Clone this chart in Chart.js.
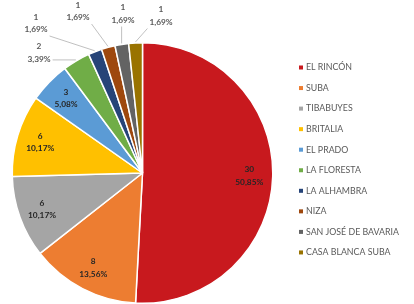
<!DOCTYPE html>
<html><head><meta charset="utf-8">
<script src="https://cdn.jsdelivr.net/npm/chart.js@4/dist/chart.umd.min.js"></script>
<style>html,body{margin:0;padding:0;background:#fff;overflow:hidden}#wrap{position:relative;width:414px;height:304px}</style>
</head><body><div id="wrap"><canvas id="c"></canvas></div>
<script>
const categories = ["EL RINCÓN","SUBA","TIBABUYES","BRITALIA","EL PRADO","LA FLORESTA","LA ALHAMBRA","NIZA","SAN JOSÉ DE BAVARIA","CASA BLANCA SUBA"];
const values = [30, 8, 6, 6, 3, 2, 1, 1, 1, 1];
const colors = ["#C8191E","#ED7D31","#A5A5A5","#FFC000","#5B9BD5","#70AD47","#264478","#9E480E","#636363","#997300"];

// layout/style: centers of outside data labels (for small slices)
const outsideLabelCenters = {5:[39,53],6:[36,23.5],7:[78,11.5],8:[123,14],9:[161,16]};
const LABEL_FONT = "bold 8.3px Lato";
const LINE_GAP = 12.5;
const legendLayout = {markerX:299, textX:306, y0:67.5, step:20.55, font:"8.8px Lato", color:"#595959"};

function pctText(v,total){ return (v/total*100).toFixed(2).replace('.',',') + '%'; }

const labelPlugin = {
  id:'labels',
  afterDatasetsDraw(chart){
    const ctx = chart.ctx;
    const meta = chart.getDatasetMeta(0);
    const data = chart.data.datasets[0].data;
    const total = data.reduce((a,b)=>a+b,0);
    ctx.save();
    ctx.font = LABEL_FONT;
    ctx.textAlign = 'center';
    ctx.textBaseline = 'middle';
    meta.data.forEach((arc,i)=>{
      const mid = (arc.startAngle+arc.endAngle)/2;
      const l1 = String(data[i]), l2 = pctText(data[i],total);
      if (outsideLabelCenters[i]) {
        const [cx,cy] = outsideLabelCenters[i];
        ctx.fillStyle = '#595959';
        ctx.fillText(l1,cx,cy-LINE_GAP/2);
        ctx.fillText(l2,cx,cy+LINE_GAP/2);
        const hw = Math.max(ctx.measureText(l1).width, ctx.measureText(l2).width)/2 + 2;
        const hh = LINE_GAP;
        const ex = arc.x + Math.cos(mid)*(arc.outerRadius+1);
        const ey = arc.y + Math.sin(mid)*(arc.outerRadius+1);
        const nx = Math.min(Math.max(ex,cx-hw),cx+hw);
        const ny = Math.min(Math.max(ey,cy-hh),cy+hh);
        ctx.strokeStyle = '#B0B0B0';
        ctx.lineWidth = 0.8;
        ctx.beginPath(); ctx.moveTo(nx,ny); ctx.lineTo(ex,ey); ctx.stroke();
      } else {
        const r = arc.outerRadius*0.82;
        const x = arc.x + Math.cos(mid)*r, y = arc.y + Math.sin(mid)*r;
        ctx.fillStyle = '#262626';
        ctx.fillText(l1,x,y-LINE_GAP/2);
        ctx.fillText(l2,x,y+LINE_GAP/2);
      }
    });
    ctx.restore();
  },
  afterDraw(chart){
    const ctx = chart.ctx, L = legendLayout;
    ctx.save();
    ctx.font = L.font; ctx.textAlign='left'; ctx.textBaseline='middle';
    chart.data.labels.forEach((lab,i)=>{
      const y = L.y0 + i*L.step;
      ctx.fillStyle = chart.data.datasets[0].backgroundColor[i];
      ctx.fillRect(L.markerX, y-2, 4, 4);
      ctx.fillStyle = L.color;
      ctx.fillText(lab, L.textX, y);
    });
    ctx.restore();
  }
};

new Chart(document.getElementById('c'), {
  type:'pie',
  data:{labels:categories, datasets:[{data:values, backgroundColor:colors, borderColor:'#ffffff', borderWidth:1.5, hoverOffset:0}]},
  options:{
    responsive:true, maintainAspectRatio:false, animation:false, events:[],
    layout:{padding:{left:11.5, top:42, right:140.5, bottom:0}},
    plugins:{legend:{display:false}, tooltip:{enabled:false}}
  },
  plugins:[labelPlugin]
});
</script>
</body></html>
